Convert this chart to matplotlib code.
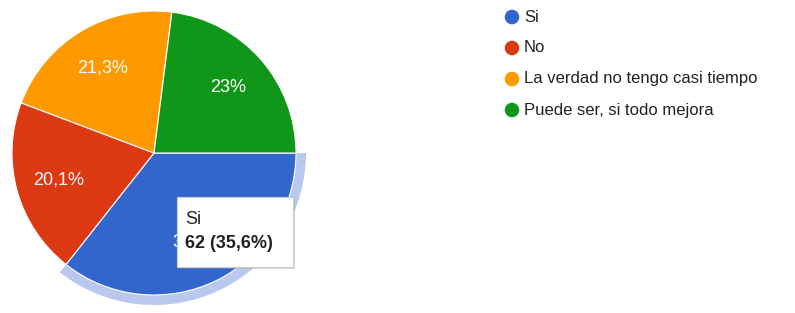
import matplotlib.pyplot as plt
from matplotlib.patches import Wedge, Rectangle

plt.rcParams['font.family'] = ['Liberation Sans', 'DejaVu Sans']

# survey answers (counts)
labels = ["Si", "No", "La verdad no tengo casi tiempo", "Puede ser, si todo mejora"]
counts = [62, 35, 37, 40]
colors = ["#3366cc", "#dc3912", "#ff9900", "#109618"]
highlight = 0  # slice under the tooltip

W, H = 795, 313
fig = plt.figure(figsize=(W / 100, H / 100), dpi=100)
ax = fig.add_axes([0, 0, 1, 1])

# work in pixel coords, y up
cx, cy, r = 154, H - 153, 142


def fmt_pct(p):
    s = f"{p:.1f}".rstrip("0").rstrip(".")
    return s.replace(".", ",") + "%"


wedges, texts, autotexts = ax.pie(
    counts, colors=colors, startangle=0, counterclock=False,
    center=(cx, cy), radius=r, autopct=fmt_pct, pctdistance=0.7,
    wedgeprops=dict(edgecolor="white", linewidth=0.8),
    textprops=dict(color="white", fontsize=13),
)

# hover halo around the highlighted slice
w = wedges[highlight]
halo = Wedge((cx, cy), r + 10, w.theta1, w.theta2, width=10,
             facecolor="#b9c8ec", edgecolor="none", zorder=0.5)
ax.add_patch(halo)

# tooltip
total = sum(counts)
tx0, ty0, tw, th = 177, H - 267, 116, 70
ax.add_patch(Rectangle((tx0 + 2, ty0 - 2), tw, th, facecolor="#999999",
                       alpha=0.35, edgecolor="none", zorder=5))
ax.add_patch(Rectangle((tx0, ty0), tw, th, facecolor="white",
                       edgecolor="#cccccc", linewidth=0.8, zorder=6))
ax.text(tx0 + 8, ty0 + th - 22, labels[highlight], fontsize=13,
        color="#222222", va="center", zorder=7)
ax.text(tx0 + 8, ty0 + th - 47,
        f"{counts[highlight]} ({fmt_pct(counts[highlight] / total * 100)})".replace("%)", "%)"),
        fontsize=13, fontweight="bold", color="#222222", va="center", zorder=7)

# legend
lx, ly0, dy = 512, H - 17, 31
for i, (lab, col) in enumerate(zip(labels, colors)):
    y = ly0 - i * dy
    ax.scatter([lx], [y], s=110, color=col, edgecolors="none", zorder=3)
    ax.text(lx + 12, y, lab, fontsize=12, color="#222222", va="center")

ax.set_xlim(0, W)
ax.set_ylim(0, H)
ax.set_aspect("equal")
ax.axis("off")

fig.savefig("out.png", dpi=100)
